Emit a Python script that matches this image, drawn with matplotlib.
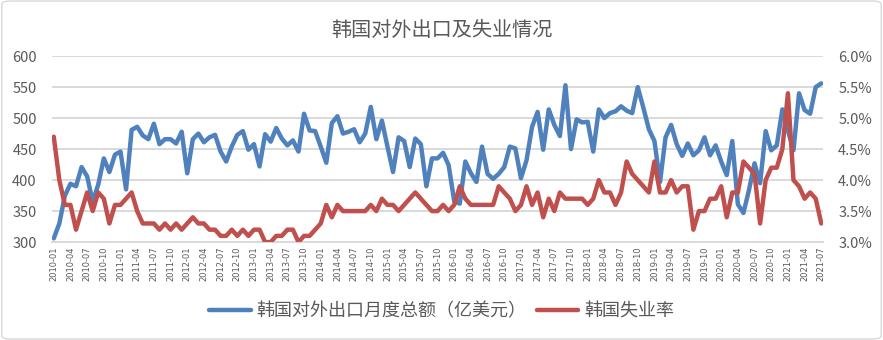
import matplotlib
matplotlib.use('Agg')
import matplotlib.pyplot as plt
from matplotlib.patches import FancyBboxPatch
from matplotlib.ticker import FuncFormatter

plt.rcParams['font.family'] = ['Noto Sans CJK SC', 'DejaVu Sans']

# 月份 2010-01 .. 2021-07
months = [f"{y}-{m:02d}" for y in range(2010, 2022) for m in range(1, 13)][:139]

# 韩国对外出口月度总额（亿美元）
exports = [
    306, 330, 375, 394, 390, 421, 406, 365, 393, 435, 413, 441,
    446, 385, 481, 486, 472, 466, 491, 458, 466, 466, 459, 478,
    411, 466, 475, 461, 469, 473, 446, 430, 454, 473, 479, 449,
    458, 422, 474, 462, 484, 467, 456, 464, 446, 507, 480, 479,
    454, 428, 492, 503, 475, 478, 482, 461, 475, 518, 466, 496,
    454, 413, 469, 463, 421, 467, 458, 390, 435, 435, 444, 424,
    366, 362, 430, 411, 397, 454, 410, 402, 410, 421, 454, 451,
    403, 432, 486, 510, 449, 514, 489, 471, 553, 450, 498, 493,
    494, 446, 514, 500, 508, 511, 519, 512, 508, 550, 517, 482,
    463, 397, 469, 489, 458, 439, 459, 440, 448, 469, 440, 456,
    430, 408, 463, 361, 347, 384, 427, 395, 479, 448, 456, 514,
    480, 448, 540, 513, 507, 550, 556,
]

# 韩国失业率（%）
unemp = [
    4.7, 4.0, 3.6, 3.6, 3.2, 3.5, 3.8, 3.5, 3.8, 3.7, 3.3, 3.6,
    3.6, 3.7, 3.8, 3.5, 3.3, 3.3, 3.3, 3.2, 3.3, 3.2, 3.3, 3.2,
    3.3, 3.4, 3.3, 3.3, 3.2, 3.2, 3.1, 3.1, 3.2, 3.1, 3.2, 3.1,
    3.2, 3.2, 3.0, 3.0, 3.1, 3.1, 3.2, 3.2, 3.0, 3.1, 3.1, 3.2,
    3.3, 3.6, 3.4, 3.6, 3.5, 3.5, 3.5, 3.5, 3.5, 3.6, 3.5, 3.7,
    3.6, 3.6, 3.5, 3.6, 3.7, 3.8, 3.7, 3.6, 3.5, 3.5, 3.6, 3.5,
    3.6, 3.9, 3.7, 3.6, 3.6, 3.6, 3.6, 3.6, 3.9, 3.8, 3.7, 3.5,
    3.6, 3.9, 3.6, 3.8, 3.4, 3.7, 3.5, 3.8, 3.7, 3.7, 3.7, 3.7,
    3.6, 3.7, 4.0, 3.8, 3.8, 3.6, 3.8, 4.3, 4.1, 4.0, 3.9, 3.8,
    4.3, 3.8, 3.8, 4.0, 3.8, 3.9, 3.9, 3.2, 3.5, 3.5, 3.7, 3.7,
    3.9, 3.4, 3.8, 3.8, 4.3, 4.2, 4.1, 3.3, 4.0, 4.2, 4.2, 4.5,
    5.4, 4.0, 3.9, 3.7, 3.8, 3.7, 3.3,
]

blue = '#4F81BD'
red = '#C0504D'
txt = '#595959'

fig = plt.figure(figsize=(8.83, 3.4), dpi=100)
fig.patches.append(FancyBboxPatch((0.002, 0.003), 0.996, 0.994,
                                  boxstyle='round,pad=0,rounding_size=0.01',
                                  transform=fig.transFigure, fc='white',
                                  ec='#D9D9D9', lw=1.0, zorder=-1))

ax = fig.add_axes([0.059, 0.288, 0.873, 0.547])
ax2 = ax.twinx()

x = list(range(len(months)))
ax.plot(x, exports, color=blue, lw=3.2, solid_capstyle='round', zorder=3)
ax2.plot(x, unemp, color=red, lw=3.2, solid_capstyle='round', zorder=3)

ax.set_ylim(300, 600)
ax.set_yticks(range(300, 601, 50))
ax2.set_ylim(3.0, 6.0)
ax2.set_yticks([3.0, 3.5, 4.0, 4.5, 5.0, 5.5, 6.0])
ax2.yaxis.set_major_formatter(FuncFormatter(lambda v, p: f"{v:.1f}%"))
ax.set_xlim(-0.3, len(months) - 0.7)

ax.set_xticks(x[::3])
ax.set_xticklabels(months[::3], rotation=90, fontsize=6, color=txt,
                   family='DejaVu Sans')
ax.tick_params(axis='x', length=0, pad=3)
ax.tick_params(axis='y', length=0, pad=11, labelsize=10.5, labelcolor=txt)
ax2.tick_params(axis='y', length=0, pad=11, labelsize=10.5, labelcolor=txt)

ax.grid(axis='y', color='#D9D9D9', lw=1.4)
ax.set_axisbelow(True)
for a in (ax, ax2):
    for s in a.spines.values():
        s.set_visible(False)
ax.spines['bottom'].set_visible(True)
ax.spines['bottom'].set_color('#D9D9D9')
ax.spines['bottom'].set_linewidth(1.4)

fig.text(0.5, 0.91, '韩国对外出口及失业情况', ha='center', va='center',
         fontsize=14.5, color=txt)

h1, = ax.plot([], [], color=blue, lw=3.2, solid_capstyle='round')
h2, = ax.plot([], [], color=red, lw=3.2, solid_capstyle='round')
fig.legend([h1, h2], ['韩国对外出口月度总额（亿美元）', '韩国失业率'],
           loc='center', bbox_to_anchor=(0.5, 0.085), ncol=2, frameon=False,
           fontsize=13, labelcolor=txt, handlelength=2.3, handletextpad=0.3,
           columnspacing=0.6)

fig.savefig('out.png', dpi=100)
